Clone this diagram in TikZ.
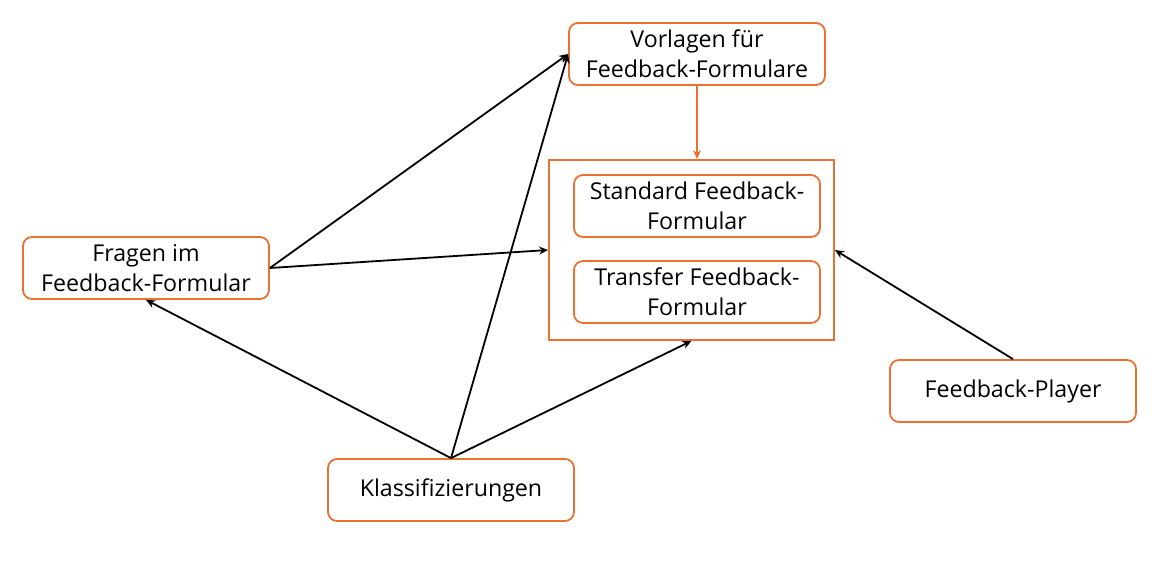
\documentclass[tikz,border=0pt]{standalone}
\usepackage{fontspec}
\setmainfont{Open Sans}
\usetikzlibrary{arrows.meta}
\definecolor{orng}{HTML}{E97132}
\begin{document}
\begin{tikzpicture}[x=1pt,y=-1pt,
  box/.style={draw=orng,line width=1.8pt,rounded corners=9pt,minimum width=246pt,minimum height=62pt,align=center,font=\fontsize{23.2}{30}\selectfont,inner sep=0pt},
  arr/.style={-{Stealth[length=9pt,width=8pt]},line width=1.8pt},
  oarr/.style={-{Stealth[length=9pt,width=8pt]},line width=1.8pt,draw=orng,fill=orng}]
\useasboundingbox (0,0) rectangle (1159,565);
\node[box,minimum width=256pt] (vorl) at (697,54) {Vorlagen für\\Feedback-Formulare};
\node[draw=orng,line width=1.8pt,minimum width=285pt,minimum height=180pt,inner sep=0pt] (cont) at (691.5,250) {};
\node[box] (std) at (697,206) {Standard Feedback-\\Formular};
\node[box] (trf) at (697,292) {Transfer Feedback-\\Formular};
\node[box] (frag) at (146,268) {Fragen im\\Feedback-Formular};
\node[box] (play) at (1013,391) {Feedback-Player};
\node[box] (klass) at (451,490) {Klassifizierungen};
\draw[oarr] (vorl.south) -- (vorl.south |- cont.north);
\draw[arr] (frag.east) -- (vorl.west);
\draw[arr] (frag.east) -- (cont.west);
\draw[arr] (klass.north) -- (frag.south);
\draw[arr] (klass.north) -- (vorl.west);
\draw[arr] (klass.north) -- (cont.south);
\draw[arr] (play.north) -- (cont.east);
\end{tikzpicture}
\end{document}
